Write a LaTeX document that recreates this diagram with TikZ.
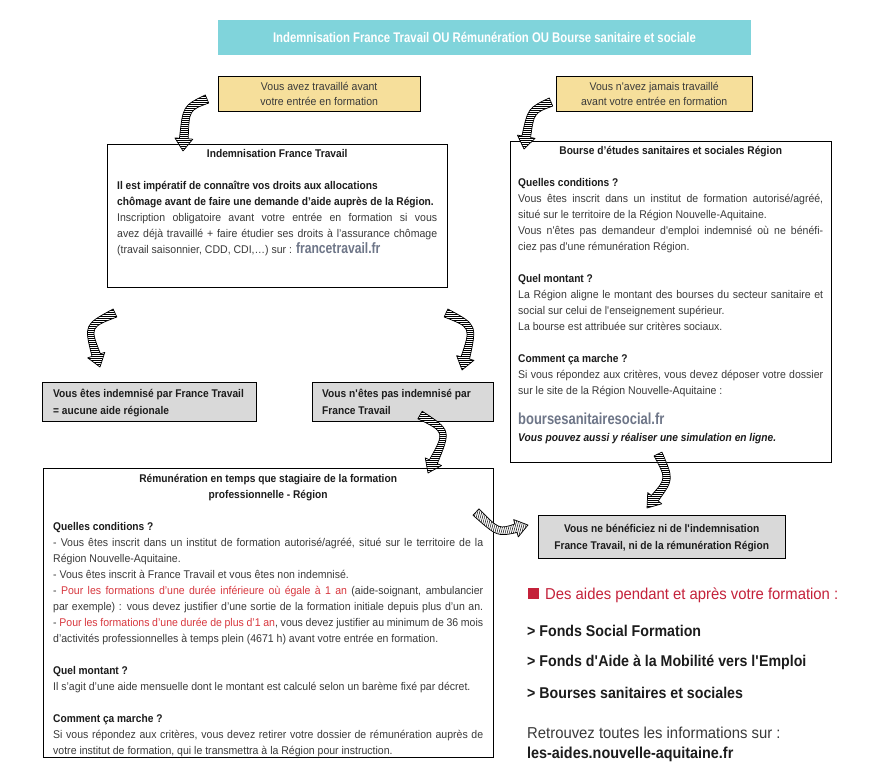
\documentclass[tikz,border=0pt]{standalone}
\usepackage{fontspec}
\setmainfont{Liberation Sans}[UprightFeatures={FakeStretch=0.94},ItalicFeatures={FakeStretch=0.94},BoldFeatures={FakeStretch=0.91},BoldItalicFeatures={FakeStretch=0.91}]
\newfontfamily\condf{Liberation Sans}[FakeStretch=0.81]
\usetikzlibrary{calc,patterns.meta}
\definecolor{cBanner}{HTML}{80D4DB}
\definecolor{cYel}{HTML}{F6DF9B}
\definecolor{cGray}{HTML}{D9D9D9}
\definecolor{cTxt}{HTML}{3A3A3A}
\definecolor{cHead}{HTML}{1C1C1C}
\definecolor{cLink}{HTML}{6E7688}
\definecolor{cRed}{HTML}{D8383F}
\definecolor{cRedS}{HTML}{C4213A}
\newcommand\sq{\textquotesingle}
\newcommand\harrow[4]{%
 \coordinate (hT) at #1;
 \coordinate (hC) at #2;
 \coordinate (hB) at #3;
 \coordinate (hH) at ($(hB)!12.5pt!(hC)$);
 \coordinate (hTL) at ($(hT)!4.4pt!90:(hC)$);
 \coordinate (hTR) at ($(hT)!4.4pt!-90:(hC)$);
 \coordinate (hHL) at ($(hH)!4.4pt!90:(hB)$);
 \coordinate (hHR) at ($(hH)!4.4pt!-90:(hB)$);
 \coordinate (hWL) at ($(hH)!9pt!90:(hB)$);
 \coordinate (hWR) at ($(hH)!9pt!-90:(hB)$);
 \coordinate (hCL) at ($(hC)+0.5*(hTL)-0.5*(hT)+0.5*(hHL)-0.5*(hH)$);
 \coordinate (hCR) at ($(hC)+0.5*(hTR)-0.5*(hT)+0.5*(hHR)-0.5*(hH)$);
 \draw[harrowst, postaction={pattern={Lines[angle=#4,distance=2pt,line width=0.5pt]}}]
   (hTL) .. controls (hCL) .. (hHL) -- (hWL) -- (hB) -- (hWR) -- (hHR) .. controls (hCR) .. (hTR) -- cycle;
}
\begin{document}
\begin{tikzpicture}[x=1pt,y=-1pt,
  panel/.style={draw=black,line width=1pt,anchor=north west,inner sep=0pt},
  txtn/.style={anchor=north west,inner sep=0pt,text=cTxt,font=\fontsize{11.2}{16}\selectfont},
  graytxt/.style={anchor=north west,inner sep=0pt,text=cHead,font=\fontsize{11.2}{17}\selectfont\bfseries},
  harrowst/.style={draw=black,line width=0.7pt,fill=white,line join=round},
  side/.style={anchor=base west,inner sep=0pt}]
\fill[white] (0,0) rectangle (885,780);
\useasboundingbox (0,0) rectangle (885,780);

% banner
\node[fill=cBanner,minimum width=533pt,minimum height=35pt,inner sep=0pt,text=white,
      font=\condf\bfseries\fontsize{14}{16}\selectfont] (ban) at (484.5,37)
  {Indemnisation France Travail OU Rémunération OU Bourse sanitaire et sociale};

% yellow boxes
\node[panel,fill=cYel,minimum width=202pt,minimum height=35pt] (y1) at (218,76) {};
\node[txtn,font=\fontsize{11.2}{15}\selectfont] (y1t) at ($(y1.north west)+(0,3.5)$)
  {\begin{minipage}[t]{202pt}\centering\strut Vous avez travaillé avant\\ votre entrée en formation\end{minipage}};
\node[panel,fill=cYel,minimum width=196pt,minimum height=35pt] (y2) at (556,76) {};
\node[txtn,font=\fontsize{11.2}{15}\selectfont] (y2t) at ($(y2.north west)+(0,3.5)$)
  {\begin{minipage}[t]{196pt}\centering\strut Vous n\sq avez jamais travaillé\\ avant votre entrée en formation\end{minipage}};

% main panels
\node[panel,minimum width=340pt,minimum height=143pt] (ind) at (107,144) {};
\node[panel,minimum width=321pt,minimum height=321pt] (bou) at (510,141) {};
\node[panel,fill=cGray,minimum width=214pt,minimum height=39pt] (g1) at (42,382) {};
\node[panel,fill=cGray,minimum width=181pt,minimum height=39pt] (g2) at (312,382) {};
\node[panel,minimum width=450pt,minimum height=289pt] (rem) at (43,468) {};
\node[panel,fill=cGray,minimum width=247pt,minimum height=43pt] (g3) at (538,515) {};

% texts of panels
\node[txtn] (indt) at ($(ind.north west)+(10,2)$) {\begin{minipage}[t]{320pt}
{\centering\bfseries\color{cHead}\strut Indemnisation France Travail\par}
\vspace{16pt}
{\bfseries\color{cHead}Il est impératif de connaître vos droits aux allocations\\ chômage avant de faire une demande d’aide auprès de la Région.}\\
Inscription obligatoire avant votre entrée en formation si vous\linebreak
avez déjà travaillé + faire étudier ses droits à l’assurance chômage\linebreak
(travail saisonnier, CDD, CDI,…) sur : {\condf\bfseries\fontsize{15}{16}\selectfont\color{cLink}francetravail.fr}
\end{minipage}};

\node[txtn] (bout) at ($(bou.north west)+(8,1.8)$) {\begin{minipage}[t]{305pt}
{\centering\bfseries\color{cHead}\strut Bourse d’études sanitaires et sociales Région\par}
\vspace{16pt}
{\bfseries\color{cHead}Quelles conditions ?}\\
Vous êtes inscrit dans un institut de formation autorisé/agréé,\linebreak
situé sur le territoire de la Région Nouvelle-Aquitaine.\\
Vous n\sq êtes pas demandeur d\sq emploi indemnisé où ne bénéfi-\linebreak
ciez pas d\sq une rémunération Région.\\[16pt]
{\bfseries\color{cHead}Quel montant ?}\\
La Région aligne le montant des bourses du secteur sanitaire et\linebreak
social sur celui de l\sq enseignement supérieur.\\
La bourse est attribuée sur critères sociaux.\\[16pt]
{\bfseries\color{cHead}Comment ça marche ?}\\
Si vous répondez aux critères, vous devez déposer votre dossier\linebreak
sur le site de la Région Nouvelle-Aquitaine :\\[14pt]
{\condf\bfseries\fontsize{16}{16}\selectfont\color{cLink}boursesanitairesocial.fr}\\[1pt]
{\bfseries\itshape\color{cHead}Vous pouvez aussi y réaliser une simulation en ligne.}
\end{minipage}};

\node[graytxt] (g1t) at ($(g1.north west)+(11,3.1)$) {\begin{minipage}[t]{200pt}\strut Vous êtes indemnisé par France Travail\\ = aucune aide régionale\end{minipage}};
\node[graytxt] (g2t) at ($(g2.north west)+(10,3.1)$) {\begin{minipage}[t]{170pt}\strut Vous n\sq êtes pas indemnisé par\\ France Travail\end{minipage}};
\node[graytxt] (g3t) at ($(g3.north west)+(8.5,5.1)$) {\begin{minipage}[t]{230pt}\centering\strut Vous ne bénéficiez ni de l\sq indemnisation\\ France Travail, ni de la rémunération Région\end{minipage}};

\node[txtn] (remt) at ($(rem.north west)+(10,2.8)$) {\begin{minipage}[t]{430pt}
{\centering\bfseries\color{cHead}\strut Rémunération en temps que stagiaire de la formation\\ professionnelle - Région\par}
\vspace{16pt}
{\bfseries\color{cHead}Quelles conditions ?}\\
- Vous êtes inscrit dans un institut de formation autorisé/agréé, situé sur le territoire de la\linebreak
Région Nouvelle-Aquitaine.\\
- Vous êtes inscrit à France Travail et vous êtes non indemnisé.\\
- \textcolor{cRed}{Pour les formations d’une durée inférieure où égale à 1 an} (aide-soignant, ambulancier\linebreak
par exemple) : vous devez justifier d’une sortie de la formation initiale depuis plus d’un an.\linebreak
- \textcolor{cRed}{Pour les formations d’une durée de plus d’1 an}, vous devez justifier au minimum de 36 mois\linebreak
d’activités professionnelles à temps plein (4671 h) avant votre entrée en formation.\\[16pt]
{\bfseries\color{cHead}Quel montant ?}\\
Il s’agit d’une aide mensuelle dont le montant est calculé selon un barème fixé par décret.\\[16pt]
{\bfseries\color{cHead}Comment ça marche ?}\\
Si vous répondez aux critères, vous devez retirer votre dossier de rémunération auprès de\linebreak
votre institut de formation, qui le transmettra à la Région pour instruction.
\end{minipage}};

% right-hand list
\node[fill=cRedS,minimum size=11pt,inner sep=0pt,anchor=north west] (sqr) at (528,588) {};
\node[side,text=cRedS,font=\fontsize{15.8}{18}\selectfont] (dtit) at (545,599) {Des aides pendant et après votre formation :};
\node[side,text=cHead,font=\fontsize{15.6}{18}\selectfont\bfseries] (f1) at (527,636.5) {> Fonds Social Formation};
\node[side,text=cHead,font=\fontsize{15.6}{18}\selectfont\bfseries] (f2) at (527,666.5) {> Fonds d\sq Aide à la Mobilité vers l\sq Emploi};
\node[side,text=cHead,font=\fontsize{15.6}{18}\selectfont\bfseries] (f3) at (527,698.5) {> Bourses sanitaires et sociales};
\node[side,text=cTxt,font=\fontsize{15.8}{18}\selectfont] (r1) at (527,738.5) {Retrouvez toutes les informations sur :};
\node[side,text=cHead,font=\fontsize{15.8}{18}\selectfont\bfseries] (r2) at (527,758.5) {les-aides.nouvelle-aquitaine.fr};

% hatched curved arrows
\harrow{($(y1.west)+(-11,5)$)}{($(y1.west)+(-32,14)$)}{($(ind.north west)+(76,7)$)}{0}
\harrow{($(y2.west)+(-5,8)$)}{($(y2.west)+(-25,16.5)$)}{($(bou.north west)+(14,8)$)}{0}
\harrow{($(ind.south west)+(8,25)$)}{($(ind.south west)+(-20,38)$)}{($(g1.north west)+(58,-15)$)}{0}
\harrow{($(ind.south east)+(-2,25)$)}{($(ind.south east)+(26,38)$)}{($(g2.north east)+(-32,-12)$)}{0}
\harrow{($(g2.south)+(17,-7)$)}{($(g2.south)+(45,9)$)}{($(rem.north east)+(-66,5)$)}{0}
\harrow{($(bou.south)+(-13,-9)$)}{($(bou.south)+(-1,16)$)}{($(g3.north)+(-15,-7)$)}{0}
\harrow{($(rem.north east)+(-18,44)$)}{($(rem.north east)+(4,65)$)}{($(g3.west)+(-10,-12)$)}{75}
\end{tikzpicture}
\end{document}
